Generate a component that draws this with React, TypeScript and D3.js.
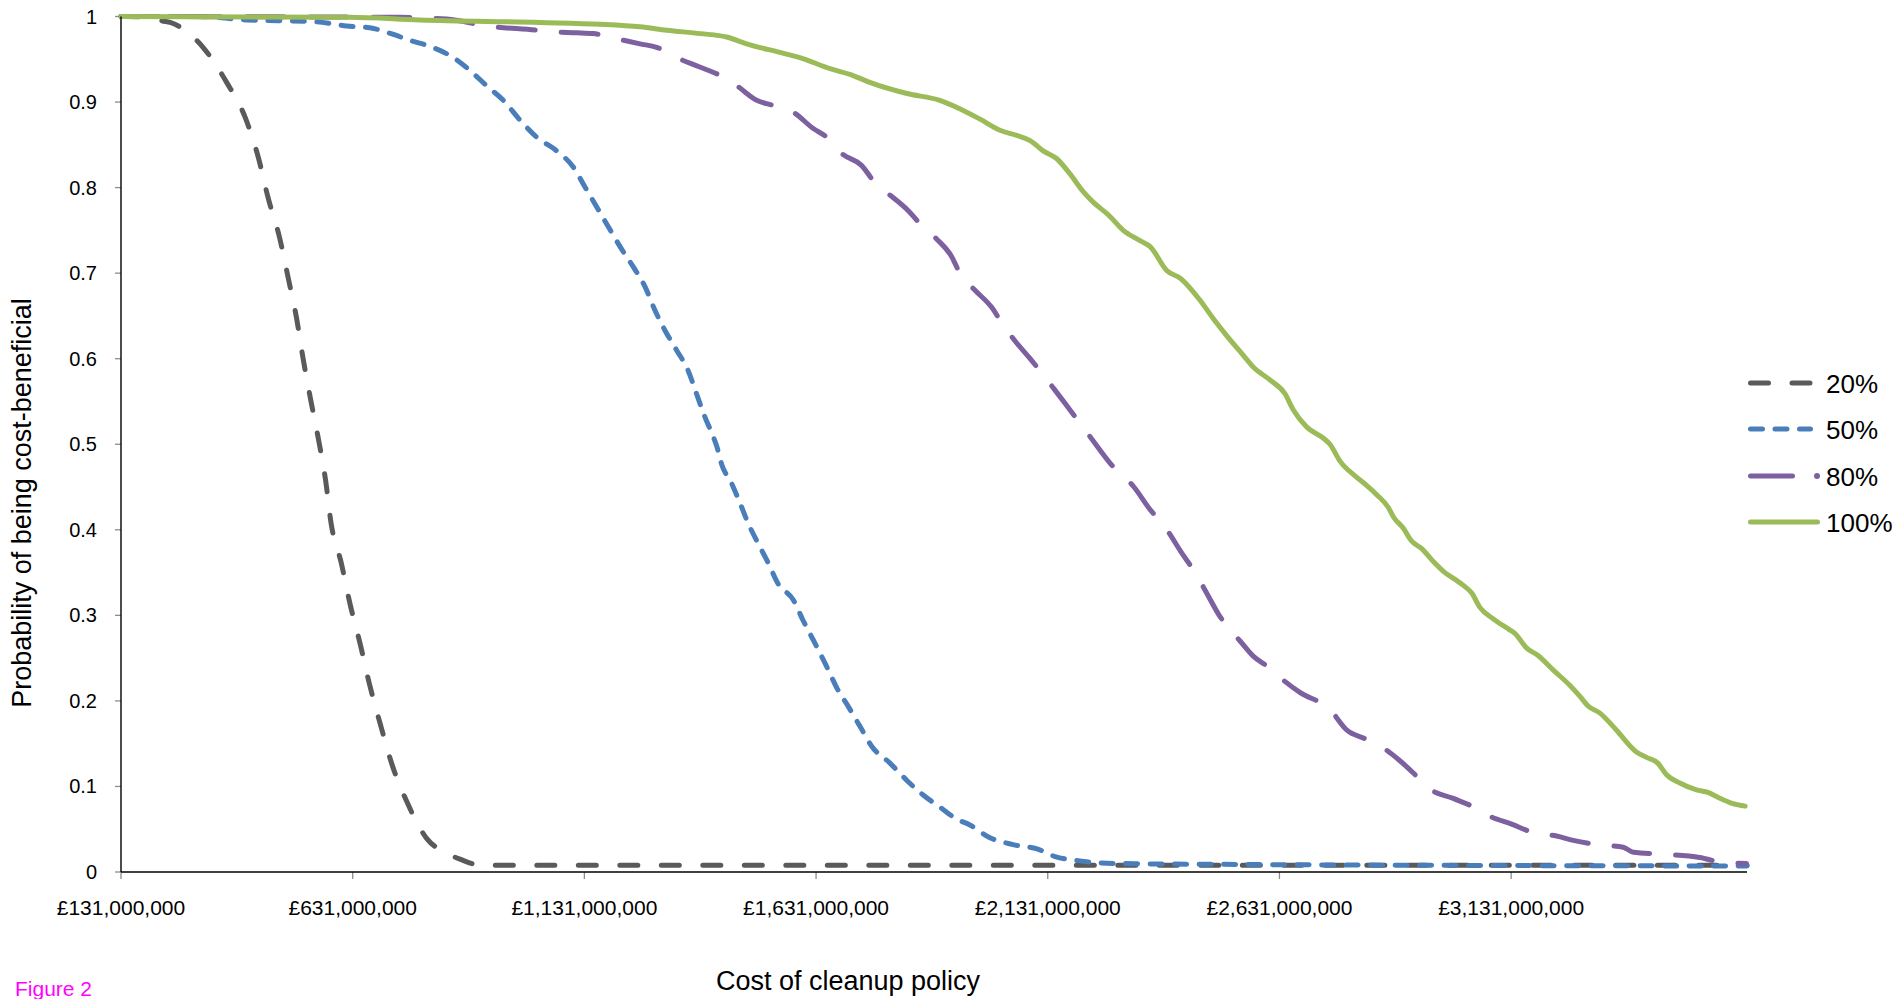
import React from "react";
import * as d3 from "d3";

// ---- data (cost in £ millions, probability) ----
const seriesLabels = ["20%", "50%", "80%", "100%"];
const seriesColors = ["#5a5a5a", "#4a7ebb", "#7d60a0", "#9bbb59"];

const curve20: [number, number][] = [
  [131, 1], [200, 0.999], [219, 0.995], [237, 0.993], [308, 0.964], [359, 0.923], [399, 0.882],
  [427, 0.836], [449, 0.787], [473, 0.742], [492, 0.694], [510, 0.647], [524, 0.6], [540, 0.553],
  [556, 0.509], [573, 0.456], [584, 0.409], [606, 0.362], [625, 0.314], [647, 0.267], [667, 0.22],
  [690, 0.174], [715, 0.127], [748, 0.082], [791, 0.039], [830, 0.023], [863, 0.015], [906, 0.008],
  [1500, 0.008], [2500, 0.008], [3640, 0.008],
];

const curve50: [number, number][] = [
  [131, 1], [300, 1], [402, 0.996], [546, 0.994], [618, 0.989], [676, 0.986], [719, 0.979],
  [755, 0.972], [798, 0.965], [848, 0.952], [884, 0.937], [920, 0.919], [956, 0.902], [992, 0.879],
  [1028, 0.859], [1071, 0.843], [1107, 0.824], [1132, 0.801], [1158, 0.777], [1183, 0.754],
  [1208, 0.731], [1237, 0.707], [1262, 0.684], [1283, 0.657], [1305, 0.633], [1330, 0.61],
  [1355, 0.586], [1373, 0.559], [1391, 0.532], [1409, 0.509], [1417, 0.497], [1427, 0.477],
  [1449, 0.454], [1467, 0.431], [1485, 0.407], [1506, 0.384], [1528, 0.361], [1549, 0.337],
  [1582, 0.318], [1603, 0.294], [1629, 0.267], [1654, 0.24], [1676, 0.215], [1701, 0.193],
  [1726, 0.17], [1751, 0.147], [1791, 0.127], [1827, 0.107], [1862, 0.09], [1898, 0.076],
  [1934, 0.062], [1963, 0.055], [2003, 0.041], [2056, 0.032], [2108, 0.027], [2147, 0.018],
  [2200, 0.013], [2278, 0.01], [2488, 0.009], [3640, 0.007],
];

const curve80: [number, number][] = [
  [131, 1], [733, 0.999], [834, 0.997], [920, 0.989], [1028, 0.984], [1064, 0.982], [1114, 0.981],
  [1150, 0.98], [1201, 0.974], [1251, 0.968], [1287, 0.964], [1330, 0.952], [1380, 0.941],
  [1424, 0.931], [1460, 0.919], [1503, 0.902], [1539, 0.896], [1582, 0.888], [1625, 0.869],
  [1654, 0.859], [1686, 0.84], [1729, 0.826], [1762, 0.803], [1791, 0.791], [1830, 0.773],
  [1855, 0.758], [1891, 0.74], [1924, 0.719], [1942, 0.699], [1974, 0.68], [2010, 0.66],
  [2035, 0.639], [2060, 0.621], [2093, 0.6], [2121, 0.581], [2147, 0.563], [2179, 0.54],
  [2222, 0.509], [2270, 0.475], [2317, 0.45], [2350, 0.425], [2388, 0.4], [2420, 0.373],
  [2449, 0.35], [2475, 0.325], [2501, 0.3], [2525, 0.283], [2546, 0.27], [2575, 0.252],
  [2606, 0.24], [2640, 0.224], [2675, 0.21], [2740, 0.19], [2776, 0.166], [2819, 0.155],
  [2855, 0.145], [2891, 0.13], [2931, 0.11], [2956, 0.097], [3006, 0.086], [3054, 0.075],
  [3086, 0.065], [3132, 0.056], [3179, 0.046], [3229, 0.042], [3265, 0.037], [3315, 0.032],
  [3373, 0.029], [3395, 0.023], [3452, 0.021], [3538, 0.017], [3589, 0.011], [3639, 0.01],
];

const curve100: [number, number][] = [
  [131, 1], [625, 0.999], [776, 0.996], [1035, 0.993], [1165, 0.991], [1251, 0.988], [1309, 0.984],
  [1381, 0.98], [1438, 0.976], [1481, 0.968], [1553, 0.958], [1596, 0.952], [1661, 0.939],
  [1711, 0.931], [1747, 0.923], [1827, 0.91], [1898, 0.902], [1942, 0.892], [1985, 0.88],
  [2028, 0.867], [2064, 0.861], [2093, 0.855], [2121, 0.843], [2150, 0.834], [2179, 0.816],
  [2208, 0.795], [2229, 0.783], [2262, 0.768], [2294, 0.75], [2330, 0.738], [2352, 0.731],
  [2388, 0.703], [2417, 0.694], [2460, 0.668], [2488, 0.647], [2517, 0.627], [2553, 0.604],
  [2575, 0.59], [2611, 0.575], [2643, 0.559], [2661, 0.54], [2690, 0.52], [2726, 0.507],
  [2740, 0.5], [2762, 0.48], [2794, 0.463], [2819, 0.452], [2841, 0.441], [2866, 0.426],
  [2877, 0.415], [2898, 0.402], [2916, 0.387], [2938, 0.378], [2963, 0.363], [2988, 0.35],
  [3010, 0.342], [3028, 0.335], [3046, 0.326], [3064, 0.309], [3092, 0.296], [3128, 0.283],
  [3139, 0.279], [3164, 0.262], [3189, 0.253], [3222, 0.236], [3258, 0.218], [3280, 0.205],
  [3297, 0.194], [3322, 0.186], [3358, 0.166], [3402, 0.14], [3423, 0.134], [3448, 0.127],
  [3466, 0.114], [3495, 0.104], [3531, 0.096], [3556, 0.093], [3575, 0.088], [3610, 0.08],
  [3636, 0.077],
];

const xTicks = [131, 631, 1131, 1631, 2131, 2631, 3131];
const yTicks = [0, 0.1, 0.2, 0.3, 0.4, 0.5, 0.6, 0.7, 0.8, 0.9, 1];
const xDomain: [number, number] = [131, 3640];

const FONT = "'Liberation Sans', Arial, Helvetica, sans-serif";

export default function App() {
  const W = 1902;
  const H = 999;
  const x = d3.scaleLinear().domain(xDomain).range([121, 1747]);
  const y = d3.scaleLinear().domain([0, 1]).range([872, 16.5]);
  const line = d3
    .line<[number, number]>()
    .x((d) => x(d[0]))
    .y((d) => y(d[1]))
    .curve(d3.curveMonotoneX);

  const allSeries = [curve20, curve50, curve80, curve100];
  const dashes = ["18 23.5", "12 12.5", "37 26", ""];
  const fmt = d3.format(",");
  const legendY = [383, 429, 476, 522];

  return (
    <svg
      width={W}
      height={H}
      style={{ position: "absolute", left: 0, top: 0, display: "block", background: "#fff" }}
    >
      {/* y ticks */}
      {yTicks.map((t) => (
        <g key={"y" + t}>
          <line x1={115} x2={121} y1={y(t)} y2={y(t)} stroke="#8c8c8c" strokeWidth={1.3} />
          <text
            x={97}
            y={y(t)}
            dy="0.35em"
            textAnchor="end"
            fontFamily={FONT}
            fontSize={20}
            fill="#000"
          >
            {t === 0 ? "0" : t === 1 ? "1" : d3.format(".1f")(t)}
          </text>
        </g>
      ))}
      {/* x ticks */}
      {xTicks.map((t) => (
        <g key={"x" + t}>
          <line x1={x(t)} x2={x(t)} y1={872} y2={879} stroke="#8c8c8c" strokeWidth={1.3} />
          <text
            x={x(t)}
            y={915}
            textAnchor="middle"
            fontFamily={FONT}
            fontSize={21}
            fill="#000"
          >
            {"£" + fmt(t * 1e6)}
          </text>
        </g>
      ))}

      {/* series */}
      {allSeries.map((s, i) => (
        <path
          key={"s" + i}
          d={line(s) || ""}
          fill="none"
          stroke={seriesColors[i]}
          strokeWidth={5}
          strokeLinecap="round"
          strokeLinejoin="round"
          strokeDasharray={dashes[i] || undefined}
        />
      ))}

      {/* axes */}
      <line x1={121} x2={121} y1={16.5} y2={872} stroke="#000" strokeWidth={1.4} />
      <line x1={121} x2={1747} y1={872} y2={872} stroke="#000" strokeWidth={1.4} />

      {/* legend */}
      {seriesLabels.map((lab, i) => (
        <g key={"l" + i}>
          {i === 0 && (
            <line x1={1750.5} x2={1810.5} y1={legendY[i]} y2={legendY[i]} stroke={seriesColors[i]}
              strokeWidth={5} strokeLinecap="round" strokeDasharray="18 23.5" />
          )}
          {i === 1 && (
            <line x1={1750.5} x2={1810.5} y1={legendY[i]} y2={legendY[i]} stroke={seriesColors[i]}
              strokeWidth={5} strokeLinecap="round" strokeDasharray="12 12.5" />
          )}
          {i === 2 && (
            <g>
              <line x1={1750.5} x2={1792.5} y1={legendY[i]} y2={legendY[i]} stroke={seriesColors[i]}
                strokeWidth={5} strokeLinecap="round" />
              <circle cx={1817} cy={legendY[i]} r={3} fill={seriesColors[i]} />
            </g>
          )}
          {i === 3 && (
            <line x1={1750.5} x2={1817.5} y1={legendY[i]} y2={legendY[i]} stroke={seriesColors[i]}
              strokeWidth={5} strokeLinecap="round" />
          )}
          <text x={1826} y={legendY[i] + 9.5} fontFamily={FONT} fontSize={26} fill="#000">
            {lab}
          </text>
        </g>
      ))}

      {/* axis titles */}
      <text
        transform={`translate(31,503) rotate(-90)`}
        textAnchor="middle"
        fontFamily={FONT}
        fontSize={27}
        fill="#000"
      >
        Probability of being cost-beneficial
      </text>
      <text x={848} y={990} textAnchor="middle" fontFamily={FONT} fontSize={27} fill="#000">
        Cost of cleanup policy
      </text>
      <text x={15} y={996} fontFamily={FONT} fontSize={21} fill="#ff00ff">
        Figure 2
      </text>
    </svg>
  );
}
